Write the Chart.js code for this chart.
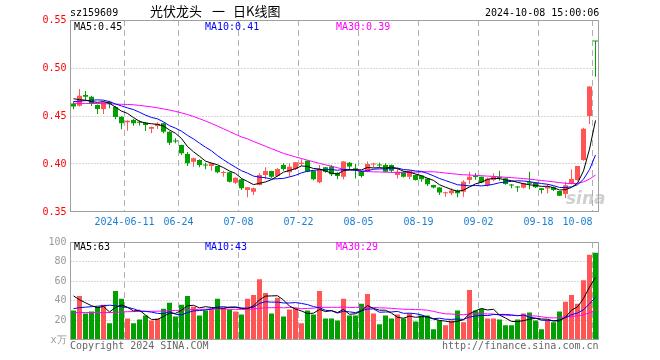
<!DOCTYPE html>
<html><head><meta charset="utf-8">
<script src="https://cdn.jsdelivr.net/npm/chart.js@4.4.1/dist/chart.umd.min.js"></script>
<style>
html,body{margin:0;padding:0;background:#fff;}
#wrap{position:relative;width:660px;height:360px;overflow:hidden;font-family:"DejaVu Sans Mono",monospace;font-size:10px;color:#000;}
canvas{position:absolute;left:0;}
.t{position:absolute;white-space:pre;line-height:12px;}
.c{position:absolute;white-space:pre;font-family:'Noto Sans CJK SC',sans-serif;font-size:13px;line-height:16px;top:3px;}
</style></head><body>
<div id="wrap">
<canvas id="pc" width="660" height="232" style="top:0;width:660px;height:232px"></canvas>
<canvas id="vc" width="660" height="128" style="top:232px;width:660px;height:128px"></canvas>
<div class="t" style="left:70px;top:7px;">sz159609</div>
<div class="c" style="left:150px;">光伏龙头</div>
<div class="c" style="left:212px;">一</div>
<div class="c" style="left:233px;">日K线图</div>
<div class="t" style="left:485px;top:7px;">2024-10-08 15:00:06</div>
<div class="t" style="left:74px;top:21px;color:#000;">MA5:0.45</div>
<div class="t" style="left:205px;top:21px;color:#0000ff;">MA10:0.41</div>
<div class="t" style="left:336px;top:21px;color:#ff00ff;">MA30:0.39</div>
<div class="t" style="left:74px;top:241px;color:#000;">MA5:63</div>
<div class="t" style="left:205px;top:241px;color:#0000ff;">MA10:43</div>
<div class="t" style="left:336px;top:241px;color:#ff00ff;">MA30:29</div>
<div class="t" style="left:70px;top:340px;color:#666;">Copyright 2024 SINA.COM</div>
<div class="t" style="left:442px;top:340px;color:#666;">http://finance.sina.com.cn</div>
<div class="t" style="left:566px;top:188px;font-family:'DejaVu Sans',sans-serif;font-size:17px;line-height:20px;font-style:italic;font-weight:bold;color:rgba(170,170,170,0.55);">sina</div>
</div>
<script>
const dates = ['05-28','05-29','05-30','05-31','06-03','06-04','06-05','06-06','06-07','06-11','06-12','06-13','06-14','06-17','06-18','06-19','06-20','06-21','06-24','06-25','06-26','06-27','06-28','07-01','07-02','07-03','07-04','07-05','07-08','07-09','07-10','07-11','07-12','07-15','07-16','07-17','07-18','07-19','07-22','07-23','07-24','07-25','07-26','07-29','07-30','07-31','08-01','08-02','08-05','08-06','08-07','08-08','08-09','08-12','08-13','08-14','08-15','08-16','08-19','08-20','08-21','08-22','08-23','08-26','08-27','08-28','08-29','08-30','09-02','09-03','09-04','09-05','09-06','09-09','09-10','09-11','09-12','09-13','09-18','09-19','09-20','09-23','09-24','09-25','09-26','09-27','09-30','10-08'];
const tickDates = ['06-11','06-24','07-08','07-22','08-05','08-19','09-02','09-18','10-08'];
const tickTexts = ['2024-06-11','06-24','07-08','07-22','08-05','08-19','09-02','09-18','10-08     '];
const priceTicks = [0.35,0.40,0.45,0.50,0.55];
const volTicks = [0,20,40,60,80,100];

const opens = [0.463,0.4607,0.472,0.470,0.4615,0.4573,0.4649,0.4594,0.4493,0.4434,
0.4458,0.4441,0.443,0.4368,0.4396,0.4424,0.4337,0.4245,0.4198,0.4104,
0.4024,0.4042,0.3995,0.3979,0.3979,0.3905,0.3914,0.3805,0.3841,0.3729,
0.3711,0.3781,0.3885,0.3927,0.3875,0.399,0.3914,0.3948,0.400,0.4034,
0.3927,0.3809,0.3966,0.3973,0.391,0.3868,0.4014,0.3955,0.392,0.392,
0.3995,0.3995,0.399,0.399,0.3886,0.392,0.3868,0.3886,0.3879,0.385,
0.3782,0.3754,0.3695,0.3695,0.3723,0.371,0.3833,0.3875,0.3868,0.3778,
0.3833,0.3865,0.3851,0.378,0.376,0.3753,0.381,0.3806,0.3747,0.3745,
0.3757,0.3719,0.3688,0.3799,0.3833,0.4042,0.45,0.528];
const highs = [0.465,0.478,0.476,0.471,0.462,0.465,0.466,0.4604,0.450,0.4455,
0.4469,0.4455,0.4437,0.439,0.4435,0.443,0.434,0.4268,0.420,0.4125,
0.4065,0.405,0.4014,0.401,0.398,0.393,0.392,0.386,0.385,0.376,
0.3755,0.3903,0.3966,0.393,0.3958,0.4007,0.4007,0.402,0.4049,0.404,
0.3935,0.399,0.397,0.399,0.3915,0.4031,0.402,0.400,0.3925,0.4025,
0.4014,0.4014,0.4007,0.3995,0.3955,0.3925,0.3935,0.389,0.388,0.3855,
0.3785,0.376,0.3712,0.3747,0.3735,0.383,0.392,0.3905,0.387,0.386,
0.3903,0.393,0.386,0.3792,0.3771,0.3805,0.392,0.381,0.375,0.3792,
0.3765,0.372,0.3816,0.3944,0.398,0.4378,0.481,0.528];
const lows = [0.457,0.460,0.466,0.4604,0.452,0.452,0.458,0.4466,0.4361,0.4347,
0.4399,0.440,0.4344,0.432,0.4365,0.432,0.4198,0.4216,0.4094,0.3979,
0.3972,0.3966,0.3945,0.393,0.3903,0.3868,0.3807,0.3792,0.3729,0.3653,
0.3677,0.3775,0.3841,0.3854,0.3865,0.393,0.3868,0.3938,0.3982,0.3915,
0.383,0.380,0.391,0.3875,0.384,0.384,0.3938,0.385,0.386,0.3915,
0.3966,0.396,0.3915,0.391,0.385,0.386,0.384,0.3827,0.3816,0.377,
0.3747,0.3677,0.366,0.3677,0.3653,0.366,0.3792,0.3835,0.380,0.3765,
0.382,0.3826,0.3785,0.3747,0.3712,0.3745,0.3736,0.375,0.3694,0.3694,
0.3719,0.3667,0.3642,0.379,0.3826,0.4035,0.4417,0.491];
const closes = [0.460,0.471,0.470,0.4625,0.4573,0.4643,0.4625,0.449,0.4424,0.4451,
0.4424,0.443,0.4406,0.4385,0.442,0.4337,0.4222,0.4235,0.4111,0.4007,
0.4059,0.399,0.3985,0.4007,0.3914,0.3915,0.3816,0.3857,0.3747,0.3757,
0.3747,0.3885,0.3927,0.3868,0.3948,0.3948,0.3972,0.4018,0.4012,0.392,
0.3841,0.3948,0.392,0.3893,0.3875,0.4025,0.3973,0.3945,0.3875,0.400,
0.4003,0.3985,0.392,0.393,0.392,0.3868,0.393,0.3834,0.384,0.3788,
0.3754,0.3702,0.3705,0.3723,0.3695,0.3815,0.3868,0.3865,0.3806,0.3847,
0.3868,0.3855,0.3792,0.3775,0.3755,0.3799,0.3795,0.3757,0.373,0.376,
0.3729,0.367,0.3778,0.3844,0.3979,0.4368,0.4806,0.5275];
const ma5 = [0.468,0.467,0.4665,0.465,0.4642,0.4650,0.4633,0.4591,0.4551,0.4527,
0.4483,0.4444,0.4427,0.4419,0.4413,0.4396,0.4354,0.4320,0.4265,0.4182,
0.4127,0.4080,0.4030,0.4010,0.3991,0.3962,0.3927,0.3902,0.3850,0.3818,
0.3785,0.3799,0.3813,0.3837,0.3875,0.3915,0.3933,0.3951,0.3980,0.3974,
0.3953,0.3948,0.3928,0.3904,0.3895,0.3932,0.3937,0.3942,0.3939,0.3964,
0.3959,0.3962,0.3957,0.3968,0.3952,0.3925,0.3914,0.3896,0.3878,0.3852,
0.3829,0.3784,0.3758,0.3734,0.3716,0.3728,0.3761,0.3793,0.3810,0.3840,
0.3851,0.3848,0.3834,0.3827,0.3809,0.3795,0.3783,0.3776,0.3767,0.3768,
0.3754,0.3729,0.3733,0.3756,0.3800,0.3928,0.4155,0.4454];
const ma10 = [0.465,0.4655,0.466,0.4665,0.4668,0.4665,0.465,0.4625,0.4605,0.4584,
0.4567,0.4539,0.4509,0.4485,0.4470,0.4439,0.4399,0.4373,0.4342,0.4298,
0.4261,0.4217,0.4175,0.4137,0.4087,0.4044,0.4004,0.3966,0.3930,0.3905,
0.3874,0.3863,0.3857,0.3843,0.3847,0.3850,0.3866,0.3882,0.3908,0.3925,
0.3934,0.3940,0.3940,0.3942,0.3935,0.3942,0.3943,0.3935,0.3922,0.3930,
0.3946,0.3949,0.3949,0.3953,0.3958,0.3942,0.3938,0.3927,0.3923,0.3902,
0.3877,0.3849,0.3827,0.3806,0.3784,0.3779,0.3772,0.3776,0.3772,0.3778,
0.3789,0.3805,0.3813,0.3819,0.3825,0.3823,0.3816,0.3805,0.3797,0.3789,
0.3775,0.3756,0.3755,0.3762,0.3784,0.3841,0.3942,0.4094];
const ma30 = [0.4632,0.4632,0.4631,0.463,0.463,0.4628,0.4626,0.4624,0.4622,0.462,
0.4617,0.461,0.4603,0.4595,0.4585,0.4574,0.4562,0.4548,0.4533,0.4515,
0.4495,0.4472,0.4448,0.4422,0.4395,0.4366,0.4338,0.4309,0.4282,0.4262,
0.4234,0.421,0.4185,0.416,0.4135,0.4111,0.4092,0.4074,0.4057,0.404,
0.4023,0.4006,0.3991,0.3977,0.3961,0.3946,0.394,0.3934,0.3928,0.3922,
0.3918,0.3917,0.3915,0.3913,0.3912,0.3911,0.3913,0.3915,0.3917,0.3919,
0.3919,0.3913,0.3906,0.3899,0.3893,0.3888,0.3885,0.3881,0.3878,0.3874,
0.3871,0.3867,0.3862,0.3858,0.3853,0.3848,0.3842,0.3835,0.3828,0.3821,
0.3814,0.3806,0.3799,0.3796,0.3798,0.3814,0.3843,0.3885];
const volumes = [30,45,27,29,34,36,17,50,42,22,
17,21,25,20,22,32,38,24,36,45,
34,25,30,32,42,33,31,29,26,42,
46,62,48,27,43,24,31,33,17,30,
26,50,22,22,20,42,25,25,37,47,
27,16,25,22,26,22,27,19,25,25,
11,20,15,20,30,18,51,30,32,22,
22,21,15,15,21,27,28,20,11,20,
18,29,39,46,37,61,87,89];
const vma5 = [45,41,38,35,33,34.2,28.6,33.2,35.8,33.4,
29.6,30.4,25.4,21,21,24,27.4,27.2,30.4,35,
35.4,32.8,34,33.2,32.6,32.4,33.6,33.4,32.2,32.2,
34.8,41,44.8,45,45.2,40.8,34.6,31.6,29.6,27,
27.4,31.2,29,30,28,31.2,26.2,26.8,29.8,35.2,
32.2,30.4,30.4,27.4,23.2,22.2,24.4,23.2,23.8,23.6,
21.4,20,19.2,18.2,19.2,20.6,26.8,29.8,32.2,30.6,
31.4,25.4,22.4,19,18.8,19.8,21.2,22.2,21.4,21.2,
19.4,19.6,23.4,30.4,33.8,42.4,54,64];
const vma10 = [32,33,33.5,34,34.5,35,35.5,35,34,33.2,
31.9,29.5,29.3,28.4,27.2,26.8,28.9,26.3,25.7,28,
29.7,30.1,30.6,31.8,33.8,33.9,33.2,33.7,32.7,32.4,
33.6,37.3,39.1,38.6,38.7,37.8,37.8,38.2,37.3,36.1,
34.1,32.9,30.3,29.8,27.5,29.3,28.7,27.9,29.9,31.6,
31.7,28.3,28.6,28.6,29.2,27.2,27.4,26.8,25.6,23.4,
21.8,22.2,21.2,21,21.4,21,23.4,24.5,25.2,24.9,
26,26.1,26.1,25.6,24.7,25.6,23.3,22.3,20.2,20,
19.6,20.4,22.8,25.9,27.5,30.9,36.8,43.7];
const vma30 = [28,28,28,28,28,28,28,28.3,28.6,28.9,
29,29.1,29.2,29.3,29.4,29.6,29.9,30.2,30.5,30.8,
31.1,31.3,31.4,31.5,31.5,31.5,31.4,31.3,31.2,31.2,
31.7,32.3,33,32.9,33.2,32.8,33.3,32.7,31.9,32.2,
32.5,33.4,33.3,33.4,33.3,33.7,33.2,33.3,33.3,33.4,
33.1,32.8,32.7,32.3,31.8,31.4,31.3,31,30.9,30.4,
29.2,27.8,26.7,26.5,26,25.8,26.5,26.4,26.9,26.6,
26.5,25.5,25.3,25.1,25.1,24.6,24.7,24.5,23.7,22.8,
22.5,22.9,23.4,24.2,24.5,25.8,27.8,30.2];

const UP = '#ff5555', DOWN = '#00a000';
const candleColors = opens.map((o, i) => closes[i] >= o ? UP : DOWN);

Chart.defaults.font.family = "'DejaVu Sans Mono', monospace";
Chart.defaults.font.size = 10;

const gridPlugin = {
  id: 'kgrid',
  beforeDatasetsDraw(chart, args, opts) {
    const { ctx, chartArea: a, scales: { x, y } } = chart;
    const slot = (a.right - a.left) / dates.length;
    ctx.save();
    ctx.strokeStyle = '#b0b0b0';
    ctx.lineWidth = 1;
    ctx.setLineDash([1, 2]);
    opts.hLines.forEach(v => {
      const py = Math.floor(y.getPixelForValue(v)) + 0.5;
      ctx.beginPath(); ctx.moveTo(a.left, py); ctx.lineTo(a.right, py); ctx.stroke();
    });
    ctx.setLineDash([6, 4]);
    dates.forEach((d, i) => {
      if (tickDates.indexOf(d) < 0) return;
      const px = x.getPixelForValue(i) - slot / 2;
      ctx.beginPath(); ctx.moveTo(px, a.top); ctx.lineTo(px, a.bottom); ctx.stroke();
    });
    ctx.restore();
  },
  afterDatasetsDraw(chart) {
    const { ctx, chartArea: a } = chart;
    ctx.save();
    ctx.strokeStyle = '#a0a0a0';
    ctx.lineWidth = 1;
    ctx.setLineDash([]);
    ctx.strokeRect(a.left, a.top + 0.5, a.right - a.left, a.bottom - a.top - 1);
    ctx.restore();
  }
};

function lineDs(data, color) {
  return { type: 'line', data, borderColor: color, borderWidth: 1, pointRadius: 0, tension: 0, fill: false, order: 0 };
}

new Chart(document.getElementById('pc'), {
  type: 'bar',
  data: {
    labels: dates,
    datasets: [
      lineDs(ma5, '#000000'),
      lineDs(ma10, '#0000ff'),
      lineDs(ma30, '#ff00ff'),
      { type: 'bar', data: opens.map((o, i) => [o, closes[i]]), backgroundColor: candleColors,
        barThickness: 5, minBarLength: 1, grouped: false, inflateAmount: 0, borderWidth: 0, order: 1 },
      { type: 'bar', data: lows.map((l, i) => [l, highs[i]]), backgroundColor: candleColors,
        barThickness: 1, grouped: false, inflateAmount: 0, borderWidth: 0, order: 2 }
    ]
  },
  options: {
    responsive: false, animation: false, events: [],
    layout: { padding: { left: 0, right: 61.5, top: 20, bottom: 0 } },
    plugins: { legend: { display: false }, tooltip: { enabled: false }, kgrid: { hLines: priceTicks.slice(1, -1) } },
    scales: {
      x: {
        grid: { display: false, drawTicks: false }, border: { display: false },
        ticks: {
          autoSkip: false, maxRotation: 0, minRotation: 0, padding: 4, labelOffset: -3,
          color: '#1a7fd4',
          callback: (v, i) => { const k = tickDates.indexOf(dates[i]); return k >= 0 ? tickTexts[k] : ''; }
        },
        afterFit: s => { s.height = 20; }
      },
      y: {
        min: priceTicks[0], max: priceTicks[priceTicks.length - 1],
        grid: { display: false, drawTicks: false }, border: { display: false },
        afterBuildTicks: s => { s.ticks = priceTicks.map(v => ({ value: v })); },
        ticks: { color: '#ff0000', padding: 4, callback: v => Number(v).toFixed(2) },
        afterFit: s => { s.width = 70.5; }
      }
    }
  },
  plugins: [gridPlugin]
});

new Chart(document.getElementById('vc'), {
  type: 'bar',
  data: {
    labels: dates,
    datasets: [
      lineDs(vma5, '#000000'),
      lineDs(vma10, '#0000ff'),
      lineDs(vma30, '#ff00ff'),
      { type: 'bar', data: volumes, backgroundColor: candleColors, barThickness: 5,
        inflateAmount: 0, borderWidth: 0, order: 1 }
    ]
  },
  options: {
    responsive: false, animation: false, events: [],
    layout: { padding: { left: 0, right: 61.5, top: 8, bottom: 20 } },
    plugins: { legend: { display: false }, tooltip: { enabled: false }, kgrid: { hLines: volTicks.slice(1, -1) } },
    scales: {
      x: { display: false },
      y: {
        min: 0, max: 100,
        grid: { display: false, drawTicks: false }, border: { display: false },
        afterBuildTicks: s => { s.ticks = volTicks.map(v => ({ value: v })); },
        ticks: { color: '#999999', padding: 4, callback: v => v === 0 ? 'x万' : String(v) },
        afterFit: s => { s.width = 70.5; }
      }
    }
  },
  plugins: [gridPlugin]
});
</script>
</body></html>
